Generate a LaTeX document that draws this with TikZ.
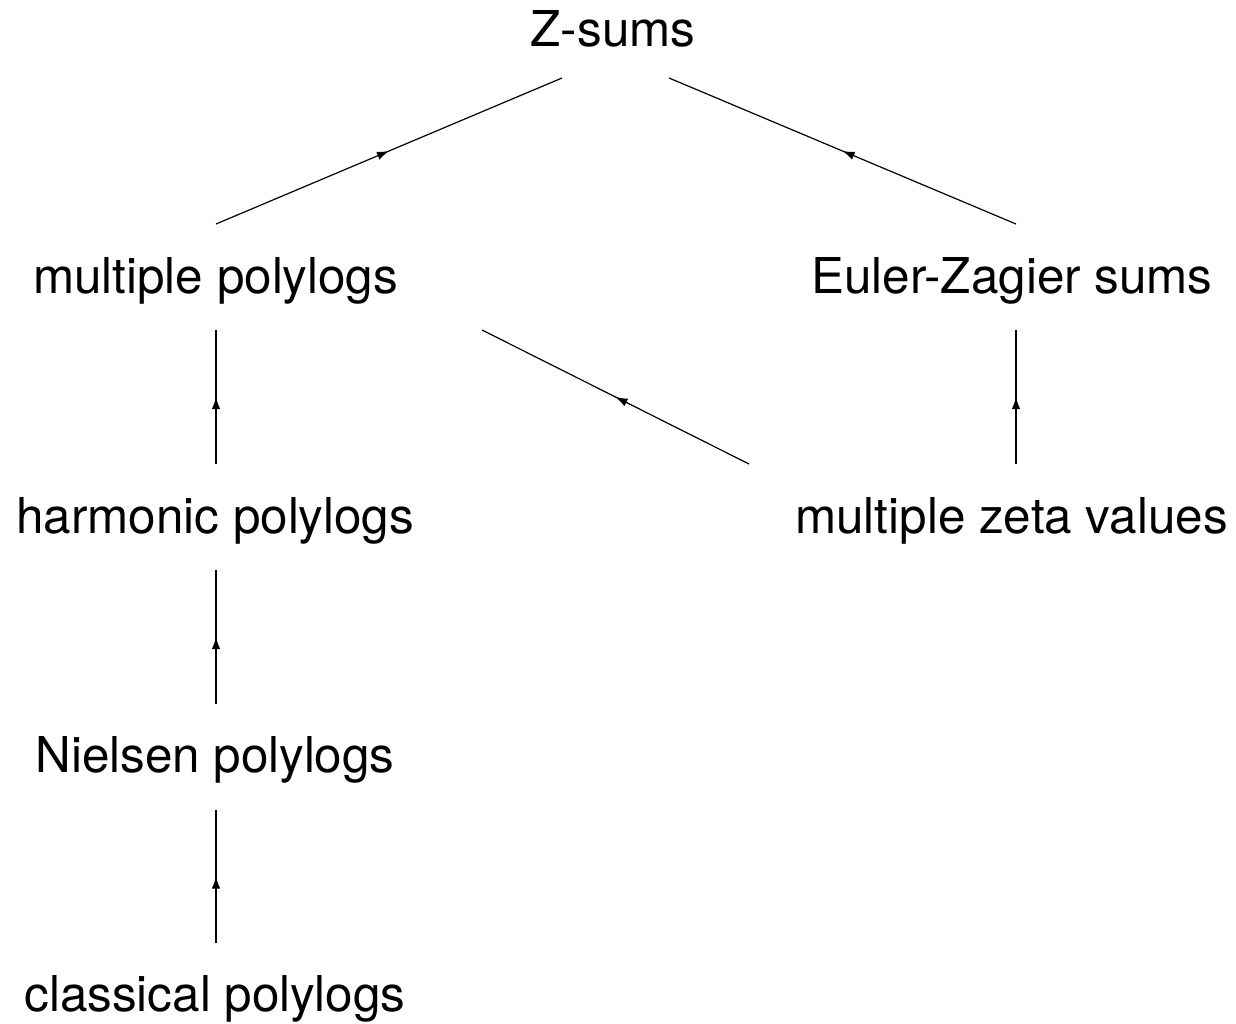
\documentclass[tikz,border=0pt]{standalone}
\usepackage{fontspec}
\setmainfont{TeX Gyre Heros}
\usetikzlibrary{calc,arrows.meta,decorations.markings}
\begin{document}
\begin{tikzpicture}[x=1pt,y=-1pt,
  lbl/.style={anchor=base,inner sep=0pt,font=\fontsize{49.4}{58}\selectfont},
  midarrow/.style={line width=1.2pt,postaction={decorate},
    decoration={markings,mark=at position 0.5 with {\arrow{Latex[length=12pt,width=8.5pt]}}}}]
\useasboundingbox (0,0) rectangle (1236,1024);
\node[lbl] (zs) at (613,47) {Z-sums};
\node[lbl] (mp) at (215.5,294) {multiple polylogs};
\node[lbl] (ez) at (1012,294) {Euler-Zagier sums};
\node[lbl] (hp) at (215,533) {harmonic polylogs};
\node[lbl] (mz) at (1011.5,533) {multiple zeta values};
\node[lbl] (np) at (215,772) {Nielsen polylogs};
\node[lbl] (cp) at (215,1011) {classical polylogs};
\draw[midarrow] ($(mp.base)+(0.5,-70)$) -- ($(zs.base)+(-51,31)$);
\draw[midarrow] ($(ez.base)+(4,-70)$) -- ($(zs.base)+(56,31)$);
\draw[midarrow] ($(hp.base)+(1,-69)$) -- ($(mp.base)+(0.5,36)$);
\draw[midarrow] ($(mz.base)+(-262.5,-69)$) -- ($(mp.base)+(266.5,36)$);
\draw[midarrow] ($(mz.base)+(4.5,-69)$) -- ($(ez.base)+(4,36)$);
\draw[midarrow] ($(np.base)+(1,-68)$) -- ($(hp.base)+(1,37)$);
\draw[midarrow] ($(cp.base)+(1,-68)$) -- ($(np.base)+(1,38)$);
\end{tikzpicture}
\end{document}
